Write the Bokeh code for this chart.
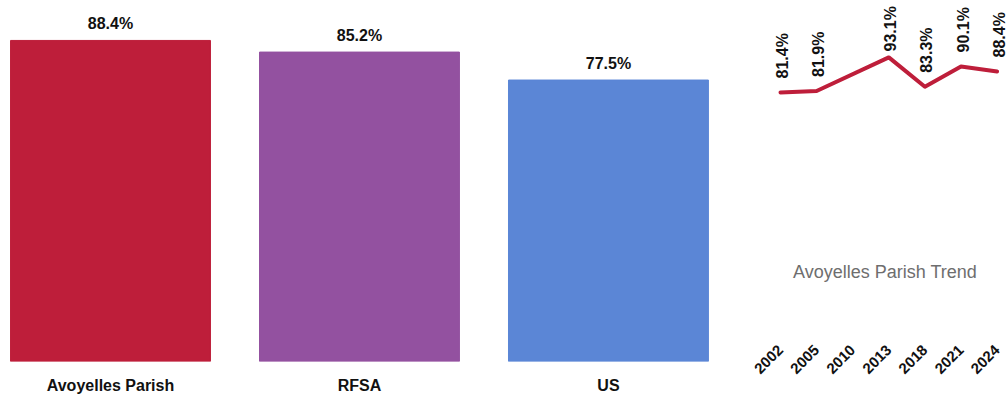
import math
from bokeh.plotting import figure
from bokeh.models import Range1d, FixedTicker, ColumnDataSource
from bokeh.layouts import row
from bokeh.core.properties import value
from bokeh.embed import file_html
from bokeh.resources import INLINE

# ---- data ----
categories = ["Avoyelles Parish", "RFSA", "US"]
cat_values = [88.4, 85.2, 77.5]
cat_colors = ["#BE1E3A", "#9351A0", "#5B86D6"]

years = ["2002", "2005", "2010", "2013", "2018", "2021", "2024"]
trend_values = [81.4, 81.9, None, 93.1, 83.3, 90.1, 88.4]

FONT = "Liberation Sans"
FRAME_H = 361

# ---- left bar chart ----
xs = list(range(len(categories)))
src = ColumnDataSource(dict(
    x=xs, top=cat_values, color=cat_colors,
    label=[f"{v:.1f}%" for v in cat_values],
))

p1 = figure(width=720, height=396, output_backend="svg", toolbar_location=None,
            x_range=Range1d(-0.4418, 2.45), y_range=Range1d(0, 99.4),
            min_border_left=0, min_border_right=0, min_border_top=0,
            min_border_bottom=35)
p1.vbar(x="x", top="top", width=0.803, bottom=0, color="color", source=src)
p1.text(x="x", y="top", text="label", source=src, text_align="center",
        text_baseline="bottom", y_offset=-8, text_font=value(FONT),
        text_font_style="bold", text_font_size="16px", text_color="#111111")
p1.xaxis.ticker = FixedTicker(ticks=xs)
p1.xaxis.major_label_overrides = {i: c for i, c in enumerate(categories)}
p1.xaxis.major_label_text_font = FONT
p1.xaxis.major_label_text_font_style = "bold"
p1.xaxis.major_label_text_font_size = "16px"
p1.xaxis.major_label_text_color = "#111111"
p1.xaxis.major_label_standoff = 9
p1.xaxis.axis_line_color = None
p1.xaxis.major_tick_line_color = None
p1.xaxis.minor_tick_line_color = None
p1.yaxis.visible = False
p1.xgrid.visible = False
p1.ygrid.visible = False
p1.outline_line_color = None

# ---- right trend chart ----
R_Y0 = -8.27
R_Y1 = 112.07
px_per_unit = FRAME_H / (R_Y1 - R_Y0)
tx = [i for i, v in enumerate(trend_values) if v is not None]
ty = [v for v in trend_values if v is not None]
# keep labels inside the top of the frame (label length ~44px, min top 7px)
yoff = []
for v in ty:
    pt = FRAME_H - (v - R_Y0) * px_per_unit
    yoff.append(-min(14, pt - 51))
tsrc = ColumnDataSource(dict(x=tx, y=ty, yoff=yoff,
                             label=[f"{v:.1f}%" for v in ty]))

p2 = figure(width=287, height=396, output_backend="svg", toolbar_location=None,
            x_range=Range1d(-1.662, 6.288), y_range=Range1d(R_Y0, R_Y1),
            min_border_left=0, min_border_right=0, min_border_top=0,
            min_border_bottom=35)
p2.line(x="x", y="y", source=tsrc, line_color="#BE1E3A", line_width=4,
        line_join="round", line_cap="round")
p2.text(x="x", y="y", text="label", source=tsrc, angle=math.pi / 2,
        text_align="left", text_baseline="middle", y_offset="yoff", x_offset=2,
        text_font=value(FONT), text_font_style="bold",
        text_font_size="16px", text_color="#111111")
p2.text(x=[2.895], y=[21.4], text=["Avoyelles Parish Trend"], text_align="center",
        text_baseline="middle", text_font=value(FONT),
        text_font_size="18px", text_color="#6E6E6E")
p2.xaxis.ticker = FixedTicker(ticks=list(range(len(years))))
p2.xaxis.major_label_overrides = {i: y for i, y in enumerate(years)}
p2.xaxis.major_label_orientation = math.pi / 4
p2.xaxis.major_label_text_font = FONT
p2.xaxis.major_label_text_font_style = "bold"
p2.xaxis.major_label_text_font_size = "15px"
p2.xaxis.major_label_text_color = "#111111"
p2.xaxis.major_label_standoff = -20
p2.xaxis.axis_line_color = None
p2.xaxis.major_tick_line_color = None
p2.xaxis.minor_tick_line_color = None
p2.yaxis.visible = False
p2.xgrid.visible = False
p2.ygrid.visible = False
p2.outline_line_color = None

layout = row(p1, p2, spacing=0)
open("out.html", "w").write(file_html(layout, INLINE))
